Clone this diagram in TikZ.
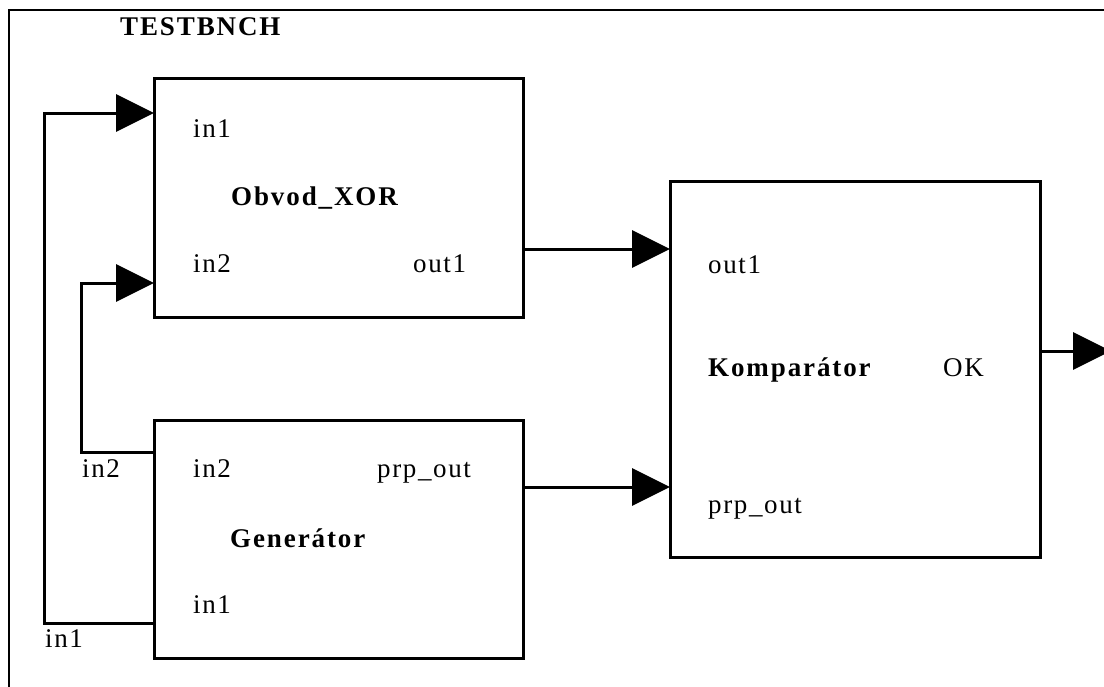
\documentclass[tikz,border=0pt]{standalone}
\usepackage{fontspec}
\setmainfont{Liberation Serif}[LetterSpace=6]
\newfontfamily\boldlbl{Liberation Serif}[LetterSpace=7]
\usetikzlibrary{arrows.meta}
\begin{document}
\begin{tikzpicture}[x=1pt,y=-1pt,
  box/.style={draw,line width=3pt,inner sep=0pt,outer sep=0pt},
  lbl/.style={anchor=base west,inner sep=0pt,font=\fontsize{27}{31}\selectfont},
  blbl/.style={anchor=base west,inner sep=0pt,font=\fontsize{27}{31}\boldlbl\bfseries},
  tlbl/.style={anchor=base west,inner sep=0pt,font=\fontsize{27}{31}\boldlbl\bfseries},
  arr/.style={line width=3pt,-{Triangle[length=38pt,width=37pt]}}]
\useasboundingbox (0,0) rectangle (1104,686);
\clip (0,0) rectangle (1104,686);
% outer frame
\draw[line width=2pt] (9,700) -- (9,10) -- (1120,10);
\node[tlbl] (title) at (120,35) {TESTBNCH};
% boxes
\node[box,minimum width=369pt,minimum height=239pt] (xor) at (338.5,197.5) {};
\node[box,minimum width=369pt,minimum height=238pt] (gen) at (338.5,539) {};
\node[box,minimum width=370pt,minimum height=376pt] (kom) at (855,369) {};
% labels in Obvod_XOR
\node[lbl] (xin1) at (193,137) {in1};
\node[blbl] (xname) at (231,205) {Obvod\_XOR};
\node[lbl] (xin2) at (193,272) {in2};
\node[lbl] (xout1) at (413,272) {out1};
% labels in Generator
\node[lbl] (gin2) at (193,477) {in2};
\node[lbl] (gprp) at (377,477) {prp\_out};
\node[blbl] (gname) at (230,547) {Generátor};
\node[lbl] (gin1) at (193,613) {in1};
% labels in Komparator
\node[lbl] (kout1) at (708,273) {out1};
\node[blbl] (kname) at (708,376) {Komparátor};
\node[lbl] (kok) at (943,376) {OK};
\node[lbl] (kprp) at (708,513) {prp\_out};
% outer labels
\node[lbl] (oin2) at (82,477) {in2};
\node[lbl] (oin1) at (45,647) {in1};
% connectors
\coordinate (c1a) at (44,623);
\coordinate (c1b) at (44,113);
\draw[arr] (gen.west |- c1a) -- (c1a) -- (c1b) -- (xor.west |- c1b);
\coordinate (c2a) at (81,452);
\coordinate (c2b) at (81,283);
\draw[arr] (gen.west |- c2a) -- (c2a) -- (c2b) -- (xor.west |- c2b);
\coordinate (c3) at (0,249);
\draw[arr] (xor.east |- c3) -- (kom.west |- c3);
\coordinate (c4) at (0,487);
\draw[arr] (gen.east |- c4) -- (kom.west |- c4);
\coordinate (okend) at (1111,351);
\draw[arr] (kom.east |- okend) -- (okend);
\end{tikzpicture}
\end{document}
